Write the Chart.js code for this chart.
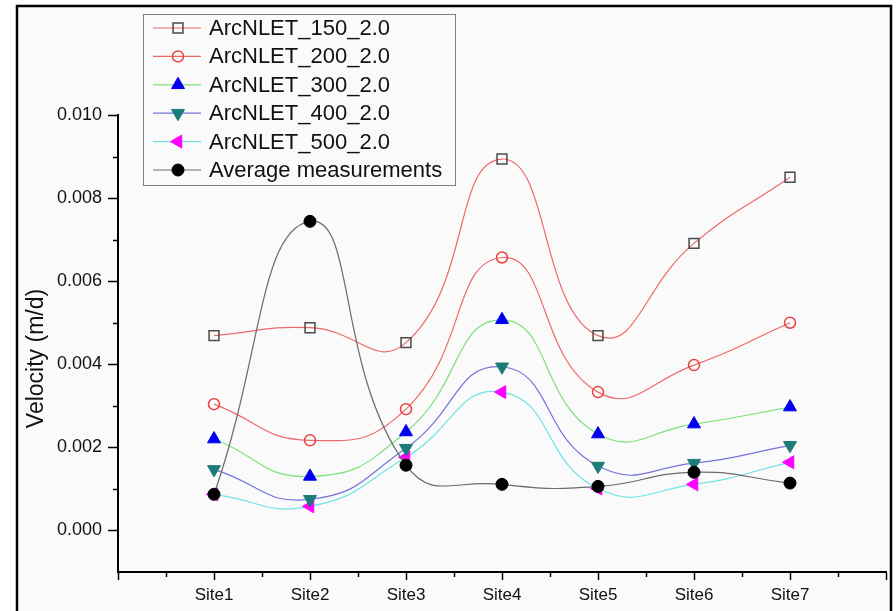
<!DOCTYPE html>
<html>
<head>
<meta charset="utf-8">
<script src="https://cdn.jsdelivr.net/npm/chart.js@4"></script>
<style>
  body { margin: 0; background: #ffffff; }
  canvas { display: block; }
</style>
</head>
<body>
<canvas id="chart" width="896" height="611"></canvas>
<script>
const siteLabels = ["Site1", "Site2", "Site3", "Site4", "Site5", "Site6", "Site7"];
const sitePositions = [1, 2, 3, 4, 5, 6, 7];

const arc150 = [0.00469, 0.00488, 0.00452, 0.00894, 0.00469, 0.00691, 0.00850];
const arc200 = [0.00304, 0.00217, 0.00292, 0.00657, 0.00333, 0.00398, 0.00500];
const arc300 = [0.00220, 0.00130, 0.00237, 0.00507, 0.00232, 0.00256, 0.00297];
const arc400 = [0.00147, 0.00075, 0.00198, 0.00394, 0.00155, 0.00162, 0.00205];
const arc500 = [0.00087, 0.00058, 0.00176, 0.00333, 0.00101, 0.00111, 0.00164];
const avgMeasured = [0.00087, 0.00744, 0.00157, 0.00111, 0.00106, 0.00140, 0.00114];

const yTicks = [0, 0.002, 0.004, 0.006, 0.008, 0.010];
const yMinorTicks = [0.001, 0.003, 0.005, 0.007, 0.009];
const xTicks = [0, 1, 2, 3, 4, 5, 6, 7, 8];
const xMinorTicks = [0.5, 1.5, 2.5, 3.5, 4.5, 5.5, 6.5, 7.5];
const yTitle = "Velocity (m/d)";

const FONT = "'Liberation Sans', Arial, sans-serif";

function toPoints(values) {
    return values.map((v, i) => ({ x: sitePositions[i], y: v }));
}

function series(label, values, line, marker, extra) {
    return Object.assign({
        label: label,
        data: toPoints(values),
        borderColor: line,
        borderWidth: 1.2,
        pointBorderColor: marker,
        pointBackgroundColor: marker,
        pointBorderWidth: 1,
        tension: 0.5,
        order: 1
    }, extra);
}

const datasets = [
    series("ArcNLET_150_2.0", arc150, "#ee6a6a", "#4a4a4a",
        { pointStyle: "rect", pointRadius: 7, pointBackgroundColor: "rgba(0,0,0,0)", pointBorderWidth: 1.5 }),
    series("ArcNLET_200_2.0", arc200, "#ee6a6a", "#e8433f",
        { pointStyle: "circle", pointRadius: 5.5, pointBackgroundColor: "rgba(0,0,0,0)", pointBorderWidth: 1.5 }),
    series("ArcNLET_300_2.0", arc300, "#7fe07f", "#0000f0",
        { pointStyle: "triangle", pointRadius: 7.5 }),
    series("ArcNLET_400_2.0", arc400, "#7373dd", "#1c7c78",
        { pointStyle: "triangle", pointRadius: 7.5, pointRotation: 180 }),
    series("ArcNLET_500_2.0", arc500, "#70e4e4", "#ff00ff",
        { pointStyle: "triangle", pointRadius: 7.5, pointRotation: 270 }),
    series("Average measurements", avgMeasured, "#6a6a6a", "#000000",
        { pointStyle: "circle", pointRadius: 6, order: 0 })
];

// outer frame and background
const framePlugin = {
    id: "frame",
    beforeDraw(chart) {
        const c = chart.ctx;
        c.save();
        c.fillStyle = "#ffffff";
        c.fillRect(0, 0, chart.width, chart.height);
        c.fillStyle = "#fafafa";
        c.fillRect(17, 6, 874, 640);
        c.strokeStyle = "#000";
        c.lineWidth = 2.5;
        c.strokeRect(17, 6, 874, 640);
        c.restore();
    }
};

// short minor ticks + axis title (a bit below the area centre, as in the figure)
const axisExtrasPlugin = {
    id: "axisExtras",
    afterDraw(chart) {
        const c = chart.ctx;
        const xs = chart.scales.x, ys = chart.scales.y;
        c.save();
        c.strokeStyle = "#000";
        c.lineWidth = 1.5;
        c.beginPath();
        yMinorTicks.forEach(v => {
            const py = Math.round(ys.getPixelForValue(v)) + 0.5;
            c.moveTo(ys.right, py);
            c.lineTo(ys.right - 5, py);
        });
        xMinorTicks.forEach(v => {
            const px = Math.round(xs.getPixelForValue(v)) + 0.5;
            c.moveTo(px, xs.top);
            c.lineTo(px, xs.top + 5);
        });
        c.stroke();

        c.translate(37, (ys.top + ys.bottom) / 2 + 15);
        c.rotate(-Math.PI / 2);
        c.fillStyle = "#111";
        c.font = "23px " + FONT;
        c.textAlign = "center";
        c.textBaseline = "middle";
        c.fillText(yTitle, 0, 0);
        c.restore();
    }
};

// boxed legend with line through marker
const legendPlugin = {
    id: "boxLegend",
    afterDraw(chart) {
        const c = chart.ctx;
        const box = { x: 143, y: 14, w: 312, h: 171 };
        const rowTop = 28, rowGap = 28.4;
        c.save();
        c.strokeStyle = "#808080";
        c.lineWidth = 1;
        c.strokeRect(box.x + 0.5, box.y + 0.5, box.w, box.h);
        chart.data.datasets.forEach((ds, i) => {
            const y = rowTop + i * rowGap;
            c.strokeStyle = ds.borderColor;
            c.lineWidth = 1.2;
            c.beginPath();
            c.moveTo(153, y);
            c.lineTo(201, y);
            c.stroke();
            c.fillStyle = ds.pointBackgroundColor;
            c.strokeStyle = ds.pointBorderColor;
            c.lineWidth = ds.pointBorderWidth;
            Chart.helpers.drawPoint(c, {
                pointStyle: ds.pointStyle,
                rotation: ds.pointRotation || 0,
                radius: ds.pointRadius,
                borderWidth: ds.pointBorderWidth
            }, 178, y);
            c.fillStyle = "#111";
            c.font = "22px " + FONT;
            c.textBaseline = "middle";
            c.textAlign = "left";
            c.fillText(ds.label, 209, y + 1);
        });
        c.restore();
    }
};

new Chart(document.getElementById("chart"), {
    type: "line",
    data: { datasets: datasets },
    options: {
        responsive: false,
        animation: false,
        layout: { padding: { top: 115, right: 10, left: 0, bottom: 0 } },
        plugins: { legend: { display: false }, tooltip: { enabled: false } },
        scales: {
            x: {
                type: "linear",
                min: 0,
                max: 8,
                afterBuildTicks: s => { s.ticks = xTicks.map(v => ({ value: v })); },
                afterFit: s => { s.height = 39; },
                ticks: {
                    padding: 5,
                    color: "#111",
                    font: { family: FONT, size: 17 },
                    maxRotation: 0,
                    autoSkip: false,
                    callback: v => (v >= 1 && v <= 7) ? siteLabels[v - 1] : ""
                },
                grid: { drawOnChartArea: false, drawTicks: true, tickLength: 8, tickWidth: 1.5, tickColor: "#000" },
                border: { display: true, color: "#000", width: 2 }
            },
            y: {
                min: -0.001,
                max: 0.010,
                afterBuildTicks: s => { s.ticks = yTicks.map(v => ({ value: v })); },
                afterFit: s => { s.width = 118; },
                ticks: {
                    padding: 6,
                    color: "#111",
                    font: { family: FONT, size: 18 },
                    callback: v => v.toFixed(3)
                },
                grid: { drawOnChartArea: false, drawTicks: true, tickLength: 10, tickWidth: 1.5, tickColor: "#000" },
                border: { display: true, color: "#000", width: 2 }
            }
        }
    },
    plugins: [framePlugin, axisExtrasPlugin, legendPlugin]
});
</script>
</body>
</html>
